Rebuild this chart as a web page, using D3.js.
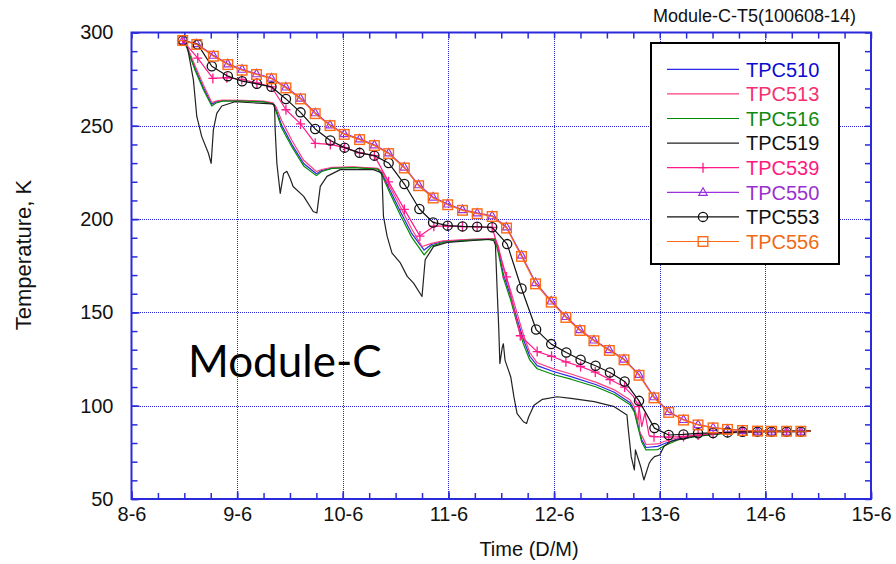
<!DOCTYPE html>
<html lang="en">
  <head>
    <meta charset="UTF-8" />
    <title>Module-C-T5</title>
    <script src="https://d3js.org/d3.v7.min.js"></script>
    <style>
      body {
        margin: 0;
        background: #fff;
      }
      text {
        font-family: "Liberation Sans", Arial, sans-serif;
      }
      .line {
        fill: none;
        stroke-width: 1.2px;
        stroke-linejoin: round;
      }
    </style>
  </head>
  <body>
    <div id="my_dataviz"></div>
    <script>
      // time is day of June (8 = 8-6), value is temperature in K
      // a third element 0 means line point only (no marker)
      var dayTicks = [8, 9, 10, 11, 12, 13, 14, 15];
      var tempTicks = [50, 100, 150, 200, 250, 300];

      var tpc510 = [
        [8.485, 295.7], [8.52, 293], [8.6, 281], [8.68, 270.5], [8.76, 261.6],
        [8.8, 262.8], [8.86, 263.5], [9.05, 263.5], [9.25, 263], [9.34, 262],
        [9.37, 258.5], [9.42, 250.5], [9.52, 239.8], [9.63, 229.8], [9.75, 224.3],
        [9.8, 226], [9.9, 227.4], [10.1, 227.8], [10.33, 227], [10.37, 224.5],
        [10.45, 215], [10.55, 203.5], [10.65, 192.5], [10.77, 183.4], [10.84, 186.4],
        [10.95, 188], [11.2, 189], [11.44, 189.4], [11.47, 184], [11.52, 170.5],
        [11.59, 158.5], [11.65, 146.5], [11.71, 135.5], [11.77, 126.5], [11.84, 121.5],
        [12.0, 118.2], [12.16, 115.6], [12.4, 111.2], [12.57, 107.2], [12.72, 101.6],
        [12.76, 97.5], [12.79, 90.5], [12.83, 81.8], [12.87, 77.6], [12.98, 78.2],
        [13.04, 79.6], [13.17, 82.2], [13.33, 83.8], [13.5, 84.8], [13.67, 85.6],
        [13.83, 86.1], [14.43, 86.5]
      ];

      var tpc513 = [
        [8.485, 295.7], [8.52, 293.5], [8.6, 282.5], [8.68, 272], [8.76, 262.5],
        [8.8, 263.2], [8.86, 263.8], [9.05, 263.7], [9.25, 263.2], [9.34, 262.3],
        [9.37, 260], [9.42, 253], [9.52, 242], [9.63, 231.5], [9.75, 225.5],
        [9.8, 226.6], [9.9, 227.8], [10.1, 228], [10.33, 227.2], [10.37, 225.5],
        [10.45, 217], [10.55, 206], [10.65, 195], [10.75, 185.3], [10.84, 187],
        [10.95, 188.3], [11.2, 189.2], [11.44, 189.6], [11.47, 186], [11.52, 173.5],
        [11.59, 161.5], [11.65, 149.5], [11.71, 138], [11.77, 128.5], [11.84, 123],
        [12.0, 119.6], [12.16, 117], [12.4, 112.5], [12.57, 108.5], [12.72, 103],
        [12.76, 99.5], [12.79, 92], [12.8, 97], [12.81, 86], [12.84, 83],
        [12.87, 79.2], [12.98, 79.5], [13.04, 80.8], [13.17, 82.8], [13.33, 84.1],
        [13.5, 85], [13.67, 85.7], [13.83, 86.1], [14.43, 86.5]
      ];

      var tpc516 = [
        [8.485, 295.7], [8.52, 292.5], [8.6, 280], [8.68, 269.5], [8.76, 260.6],
        [8.8, 262.2], [8.86, 263.2], [9.05, 263.3], [9.25, 262.8], [9.34, 261.7],
        [9.37, 257.5], [9.42, 249], [9.52, 238.5], [9.63, 228.5], [9.75, 223.3],
        [9.8, 225.5], [9.9, 227.2], [10.1, 227.6], [10.33, 226.8], [10.37, 223.8],
        [10.45, 213.5], [10.55, 201.5], [10.65, 190.5], [10.77, 180.8], [10.84, 185.5],
        [10.95, 187.6], [11.2, 188.7], [11.44, 189.1], [11.47, 182.5], [11.52, 168.5],
        [11.59, 156.5], [11.65, 144], [11.71, 133], [11.77, 124.5], [11.84, 119.8],
        [12.0, 116.6], [12.16, 114.2], [12.4, 110], [12.57, 106], [12.72, 100.5],
        [12.76, 96.5], [12.79, 89.5], [12.83, 80.5], [12.87, 76.3], [12.98, 76.4],
        [13.04, 78.4], [13.17, 81.6], [13.33, 83.4], [13.5, 84.5], [13.67, 85.4],
        [13.83, 86], [14.43, 86.5]
      ];

      var tpc519 = [
        [8.485, 295.7], [8.53, 292], [8.586, 274.6], [8.618, 255], [8.665, 244.2],
        [8.728, 235.3], [8.754, 229.9], [8.775, 247.8], [8.807, 256.7], [8.855, 260.6],
        [8.98, 262.9], [9.33, 261.7], [9.354, 261.1], [9.36, 247.8], [9.376, 229.9],
        [9.39, 222.7], [9.408, 213.8], [9.44, 224.5], [9.47, 225.6], [9.5, 222],
        [9.53, 217.5], [9.63, 212.2], [9.72, 204.1], [9.755, 203.3], [9.787, 217.5],
        [9.85, 222.9], [9.976, 226.5], [10.29, 226.5], [10.37, 224.7], [10.385, 201.5],
        [10.42, 190.7], [10.466, 181.8], [10.545, 176.5], [10.61, 169.3], [10.67, 165.7],
        [10.75, 158.5], [10.78, 178.2], [10.86, 185.4], [10.99, 187.5], [11.21, 188.4],
        [11.38, 189.2], [11.43, 188.4], [11.445, 186.1], [11.46, 163.8], [11.477, 140.4],
        [11.487, 122.6], [11.51, 131.4], [11.52, 133.2], [11.536, 124.3], [11.59, 115.4],
        [11.62, 104.7], [11.65, 95.8], [11.71, 91.4], [11.74, 90.5], [11.76, 94.1],
        [11.81, 100.3], [11.89, 103.4], [12.03, 104.8], [12.16, 103.9], [12.38, 102.2],
        [12.57, 99.5], [12.69, 95], [12.7, 88.8], [12.73, 72.7], [12.76, 65.6],
        [12.77, 76.3], [12.82, 67.3], [12.85, 60.2], [12.9, 69.1], [12.92, 70.9],
        [12.95, 72.7], [13.0, 73.6], [13.04, 78.1], [13.1, 80.8], [13.19, 82],
        [13.35, 83.8], [13.51, 84.9], [13.67, 85.6], [13.83, 86.1], [14.43, 86.5]
      ];

      var tpc539 = [
        [8.485, 295.7], [8.627, 286.3], [8.77, 275.4], [8.902, 275.8], [9.044, 274.8],
        [9.187, 273], [9.325, 270.9], [9.462, 258.6], [9.6, 251], [9.739, 240.6],
        [9.882, 240], [10.017, 238.3], [10.159, 235.5], [10.299, 234], [10.434, 220],
        [10.583, 205.2], [10.73, 190.9], [10.862, 196.2], [10.993, 196.3], [11.133, 196],
        [11.272, 195.8], [11.414, 195.5], [11.55, 169], [11.68, 137.5], [11.84, 129],
        [11.976, 126.5], [12.112, 123.5], [12.251, 121], [12.39, 118], [12.529, 114],
        [12.668, 110], [12.75, 105, 0], [12.804, 99.5], [12.83, 88.8, 0], [12.86, 96, 0],
        [12.9, 84, 0], [12.946, 83.4], [13.085, 83.2], [13.225, 83.5], [13.363, 84.3],
        [13.505, 85], [13.642, 85.6], [13.784, 86], [13.926, 86.1], [14.059, 86.1],
        [14.201, 86.1], [14.336, 86.1], [14.43, 86.2, 0]
      ];

      var tpc550 = [
        [8.43, 295.7, 0], [8.485, 295.7], [8.618, 294], [8.775, 287.8], [8.912, 283.2],
        [9.047, 280.3], [9.183, 277.9], [9.325, 275.6], [9.462, 270.8], [9.6, 264.8],
        [9.739, 257], [9.879, 250.5], [10.014, 245.8], [10.159, 243], [10.299, 239.8],
        [10.434, 235.5], [10.583, 227.9], [10.718, 218.4], [10.855, 211.8], [10.993, 208.1],
        [11.133, 205.1], [11.272, 203.3], [11.414, 201.8], [11.55, 195.8], [11.692, 180.7],
        [11.825, 166], [11.973, 156.1], [12.112, 147.8], [12.245, 140.8], [12.377, 135.2],
        [12.523, 130], [12.662, 125], [12.804, 116.8], [12.946, 104.8], [13.085, 96.8],
        [13.225, 92.6], [13.363, 89.9], [13.505, 88.3], [13.642, 87.4], [13.784, 86.8],
        [13.926, 86.4], [14.059, 86.3], [14.201, 86.3], [14.336, 86.3], [14.43, 86.3, 0]
      ];

      var tpc553 = [
        [8.485, 295.7], [8.627, 293.6], [8.76, 281.9], [8.912, 276.6], [9.047, 273.9],
        [9.187, 272.5], [9.325, 270.9], [9.462, 264.4], [9.6, 257.2], [9.739, 248.3],
        [9.882, 242.1], [10.017, 238.3], [10.159, 235.5], [10.299, 234], [10.434, 230.1],
        [10.583, 218.8], [10.725, 205.4], [10.855, 198.2], [10.993, 196.5], [11.133, 196.1],
        [11.272, 195.9], [11.414, 195.6], [11.556, 186.6], [11.692, 162.8], [11.83, 140.8],
        [11.973, 133], [12.116, 128.5], [12.251, 124.6], [12.393, 121.4], [12.529, 117.8],
        [12.668, 113], [12.804, 102.6], [12.95, 88], [13.085, 84.3], [13.225, 84.6],
        [13.363, 85.2], [13.505, 85.4], [13.642, 85.7], [13.784, 86], [13.926, 86.1],
        [14.059, 86.1], [14.201, 86.1], [14.336, 86.1], [14.43, 86.2, 0]
      ];

      var tpc556 = [
        [8.43, 295.7, 0], [8.485, 295.7], [8.618, 293.6], [8.775, 287.3], [8.912, 282.8],
        [9.047, 279.8], [9.183, 277.5], [9.325, 275.2], [9.462, 270.3], [9.6, 264.4],
        [9.739, 256.5], [9.879, 250.1], [10.014, 245.4], [10.159, 242.6], [10.299, 239.4],
        [10.434, 235.1], [10.583, 227.4], [10.718, 217.9], [10.855, 211.3], [10.993, 207.7],
        [11.133, 204.7], [11.272, 202.9], [11.414, 201.4], [11.55, 195.2], [11.692, 180],
        [11.825, 165.3], [11.973, 155.5], [12.112, 147.3], [12.245, 140.3], [12.377, 134.8],
        [12.523, 129.6], [12.662, 124.6], [12.804, 116.3], [12.946, 104.2], [13.085, 96.4],
        [13.225, 92.3], [13.363, 89.7], [13.505, 88.1], [13.642, 87.3], [13.784, 86.7],
        [13.926, 86.4], [14.059, 86.3], [14.201, 86.3], [14.336, 86.3], [14.43, 86.3, 0]
      ];

      var series = [
        { name: "TPC510", data: tpc510, color: "#2a2ae6", text: "#0a0ad2", marker: null },
        { name: "TPC513", data: tpc513, color: "#ff3d7f", text: "#f5306f", marker: null },
        { name: "TPC516", data: tpc516, color: "#008c00", text: "#108a10", marker: null },
        { name: "TPC519", data: tpc519, color: "#222222", text: "#111111", marker: null },
        { name: "TPC539", data: tpc539, color: "#ff1a8c", text: "#ff1a80", marker: "plus" },
        { name: "TPC550", data: tpc550, color: "#9a30e0", text: "#9a30d0", marker: "triangle" },
        { name: "TPC553", data: tpc553, color: "#111111", text: "#111111", marker: "circle" },
        { name: "TPC556", data: tpc556, color: "#ff6a14", text: "#f06a14", marker: "square" }
      ];

      var width = 896,
        height = 564;
      var plot = { left: 131.5, right: 871, top: 32.5, bottom: 499 };
      var axisColor = "#2b2bdc";

      var svg = d3
        .select("#my_dataviz")
        .append("svg")
        .attr("width", width)
        .attr("height", height);

      var x = d3.scaleLinear().domain([8, 15]).range([plot.left, plot.right]);
      var y = d3.scaleLinear().domain([50, 300]).range([plot.bottom, plot.top]);

      var minorDays = d3.range(8, 15.001, 0.25);
      var minorTemps = d3.range(50, 300.001, 10);

      // dotted grid at major ticks
      var grid = svg
        .append("g")
        .attr("stroke", "#2727d8")
        .attr("stroke-width", 1)
        .attr("stroke-dasharray", "1,1")
        .attr("shape-rendering", "crispEdges");
      grid
        .selectAll("line.gx")
        .data(dayTicks.slice(1, -1))
        .enter()
        .append("line")
        .attr("x1", (d) => Math.round(x(d)) + 0.5)
        .attr("x2", (d) => Math.round(x(d)) + 0.5)
        .attr("y1", plot.top)
        .attr("y2", plot.bottom);
      grid
        .selectAll("line.gy")
        .data(tempTicks.slice(1, -1))
        .enter()
        .append("line")
        .attr("x1", plot.left)
        .attr("x2", plot.right)
        .attr("y1", (d) => Math.round(y(d)) + 0.5)
        .attr("y2", (d) => Math.round(y(d)) + 0.5);

      function styleAxis(g) {
        g.selectAll(".domain").remove();
        g.selectAll(".tick line").attr("stroke", axisColor).attr("stroke-width", 1.5);
        g.selectAll(".tick text").attr("fill", "#111").style("font-size", "20px");
      }

      // minor ticks on all four sides
      svg.append("g").attr("transform", "translate(0," + plot.bottom + ")")
        .call(d3.axisBottom(x).tickValues(minorDays).tickSize(-6).tickFormat("")).call(styleAxis);
      svg.append("g").attr("transform", "translate(0," + plot.top + ")")
        .call(d3.axisTop(x).tickValues(minorDays).tickSize(-6).tickFormat("")).call(styleAxis);
      svg.append("g").attr("transform", "translate(" + plot.left + ",0)")
        .call(d3.axisLeft(y).tickValues(minorTemps).tickSize(-6).tickFormat("")).call(styleAxis);
      svg.append("g").attr("transform", "translate(" + plot.right + ",0)")
        .call(d3.axisRight(y).tickValues(minorTemps).tickSize(-6).tickFormat("")).call(styleAxis);

      // major ticks and labels
      svg.append("g").attr("transform", "translate(0," + plot.bottom + ")")
        .call(d3.axisBottom(x).tickValues(dayTicks).tickSize(-8).tickPadding(8).tickFormat((d) => d + "-6"))
        .call(styleAxis);
      svg.append("g").attr("transform", "translate(" + plot.left + ",0)")
        .call(d3.axisLeft(y).tickValues(tempTicks).tickSize(-8).tickPadding(18).tickFormat((d) => d))
        .call(styleAxis);

      // frame
      svg
        .append("rect")
        .attr("x", plot.left)
        .attr("y", plot.top)
        .attr("width", plot.right - plot.left)
        .attr("height", plot.bottom - plot.top)
        .attr("fill", "none")
        .attr("stroke", axisColor)
        .attr("stroke-width", 2);

      // lines
      var valueline = d3
        .line()
        .x((d) => x(d[0]))
        .y((d) => y(d[1]));

      var plotArea = svg.append("g");

      function drawMarker(g, type, color, cx, cy) {
        if (type === "circle") {
          g.append("circle").attr("cx", cx).attr("cy", cy).attr("r", 4.6)
            .attr("fill", "none").attr("stroke", color).attr("stroke-width", 1.3);
        } else if (type === "square") {
          g.append("rect").attr("x", cx - 4.8).attr("y", cy - 4.8).attr("width", 9.6).attr("height", 9.6)
            .attr("fill", "none").attr("stroke", color).attr("stroke-width", 1.4);
        } else if (type === "triangle") {
          g.append("path")
            .attr("d", "M" + cx + "," + (cy - 4.5) + "L" + (cx + 4.2) + "," + (cy + 3) + "L" + (cx - 4.2) + "," + (cy + 3) + "Z")
            .attr("fill", "none").attr("stroke", color).attr("stroke-width", 1.2);
        } else if (type === "plus") {
          g.append("path")
            .attr("d", "M" + (cx - 4.5) + "," + cy + "H" + (cx + 4.5) + "M" + cx + "," + (cy - 5) + "V" + (cy + 5))
            .attr("fill", "none").attr("stroke", color).attr("stroke-width", 1.3);
        }
      }

      series.forEach(function (s) {
        plotArea.append("path").datum(s.data).attr("class", "line").attr("stroke", s.color).attr("d", valueline);
        if (s.marker) {
          var mg = plotArea.append("g");
          s.data
            .filter((d) => d[2] !== 0)
            .forEach((d) => drawMarker(mg, s.marker, s.color, x(d[0]), y(d[1])));
        }
      });

      // legend
      var legend = svg.append("g");
      legend
        .append("rect")
        .attr("x", 651)
        .attr("y", 43)
        .attr("width", 188)
        .attr("height", 221)
        .attr("fill", "#fff")
        .attr("stroke", "#000")
        .attr("stroke-width", 2);
      series.forEach(function (s, i) {
        var ly = 69.3 + i * 24.6;
        legend.append("line").attr("x1", 667).attr("x2", 739).attr("y1", ly).attr("y2", ly)
          .attr("stroke", s.color).attr("stroke-width", 1.2);
        if (s.marker) drawMarker(legend, s.marker, s.color, 703, ly);
        legend.append("text").attr("x", 746).attr("y", ly + 7.2).attr("fill", s.text)
          .style("font-size", "20px").text(s.name);
      });

      // titles
      svg
        .append("text")
        .attr("x", 856)
        .attr("y", 22)
        .attr("text-anchor", "end")
        .attr("fill", "#111")
        .style("font-size", "18px")
        .text("Module-C-T5(100608-14)");

      svg
        .append("text")
        .attr("x", 529)
        .attr("y", 556)
        .attr("text-anchor", "middle")
        .attr("fill", "#111")
        .style("font-size", "20px")
        .text("Time (D/M)");

      svg
        .append("text")
        .attr("transform", "translate(31,255) rotate(-90)")
        .attr("text-anchor", "middle")
        .attr("fill", "#111")
        .style("font-size", "22px")
        .text("Temperature, K");

      svg
        .append("text")
        .attr("x", 188)
        .attr("y", 377)
        .attr("fill", "#000")
        .style("font-family", "Lato, 'Open Sans', sans-serif")
        .style("font-size", "44px")
        .text("Module-C");
    </script>
  </body>
</html>
